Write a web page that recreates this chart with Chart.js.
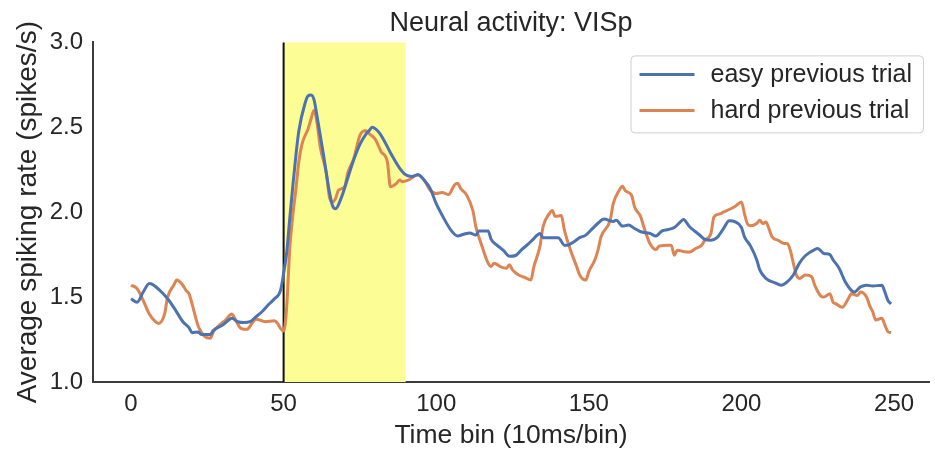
<!DOCTYPE html>
<html>
<head>
<meta charset="utf-8">
<script src="https://cdn.jsdelivr.net/npm/chart.js@4.4.1/dist/chart.umd.min.js"></script>
<style>
  html, body { margin: 0; padding: 0; background: #fff; }
</style>
</head>
<body>
<canvas id="chart" width="935" height="452"></canvas>
<script>
// time bins (10ms/bin) and average spiking rate
const easyBins = [0, 2, 4, 6, 7, 10, 12, 14, 17, 19, 20, 22, 23, 26, 27, 30, 32, 33, 35, 37, 39, 41, 43, 45, 47, 49,
    50, 51, 52, 53, 54, 55, 57, 58, 59, 60, 61, 63, 65, 66, 67, 69, 71, 73, 75, 77, 78, 79, 81, 83, 85, 88, 90,
    92, 94, 96, 98, 100, 102, 105, 107, 109, 111, 113, 114, 117, 118, 120, 122, 124, 126, 128, 130, 132, 134, 135,
    137, 140, 142, 143, 145, 147, 149, 151, 153, 155, 158, 159, 161, 163, 165, 167, 170, 172, 174, 176, 178, 180,
    181, 183, 186, 188, 190, 192, 194, 196, 198, 200, 201, 203, 205, 206, 208, 211, 213, 215, 217, 219, 221, 224,
    225, 227, 229, 230, 232, 234, 236, 237, 239, 241, 243, 246, 247, 248, 249];
const easyRate = [1.49, 1.47, 1.53, 1.58, 1.575, 1.53, 1.49, 1.44, 1.355, 1.32, 1.29, 1.295, 1.28, 1.28, 1.305, 1.335,
    1.365, 1.375, 1.355, 1.35, 1.355, 1.385, 1.415, 1.455, 1.49, 1.54,
    1.64, 1.76, 1.96, 2.15, 2.33, 2.48, 2.64, 2.685, 2.69, 2.66, 2.56, 2.345, 2.12, 2.04, 2.02, 2.09, 2.2, 2.31, 2.4,
    2.46, 2.48, 2.5, 2.475, 2.42, 2.35, 2.26, 2.22,
    2.21, 2.22, 2.19, 2.14, 2.05, 1.98, 1.89, 1.86, 1.87, 1.878, 1.865, 1.89, 1.89, 1.84, 1.805, 1.775, 1.74, 1.745,
    1.78, 1.81, 1.845, 1.875, 1.85,
    1.85, 1.85, 1.806, 1.806, 1.825, 1.85, 1.865, 1.9, 1.935, 1.96, 1.945, 1.953, 1.918, 1.924, 1.904, 1.885, 1.875,
    1.86, 1.89, 1.898, 1.91, 1.943,
    1.957, 1.914, 1.87, 1.84, 1.835, 1.85, 1.9, 1.95, 1.943, 1.91, 1.855, 1.8, 1.72, 1.66, 1.61, 1.584, 1.57, 1.59,
    1.63, 1.7, 1.745, 1.78,
    1.786, 1.757, 1.75, 1.72, 1.67, 1.59, 1.54, 1.53, 1.56, 1.57, 1.565, 1.57, 1.53, 1.48, 1.46];

const hardBins = [0, 2, 4, 6, 8, 9, 11, 12, 14, 15, 17, 18, 19, 20, 22, 23, 24, 26, 27, 29, 31, 33, 34, 36, 38, 40, 41,
    44, 47, 48, 49, 50, 51, 52, 53, 54, 55, 56, 58, 59, 60, 61, 62, 64, 65, 66, 67, 68, 70, 71, 73, 75, 77, 78, 80,
    82, 84, 85, 87, 88, 89, 91, 94, 96, 98, 100, 102, 104, 106, 107, 108, 110, 112, 113, 115, 117, 118, 119, 121,
    123, 124, 125, 127, 129, 131, 132, 134, 135, 137, 138, 139, 141, 142, 144, 146, 147, 149, 150, 152, 153, 154,
    157, 158, 160, 161, 162, 164, 165, 167, 168, 170, 172, 173, 176, 177, 178, 179, 182, 183, 185, 187, 188, 190,
    191, 193, 194, 196, 198, 200, 201, 202, 203, 205, 206, 207, 208, 209, 210, 212, 214, 215, 216, 217, 218, 219,
    221, 223, 224, 226, 227, 229, 230, 231, 233, 235, 236, 238, 239, 241, 242, 243, 244, 246, 247, 248, 249];
const hardRate = [1.57, 1.55, 1.48, 1.4, 1.355, 1.345, 1.4, 1.5, 1.57, 1.6, 1.57, 1.54, 1.52, 1.46, 1.33, 1.296, 1.27,
    1.257, 1.296, 1.335, 1.365, 1.4, 1.375, 1.316, 1.31, 1.355, 1.37,
    1.355, 1.36, 1.345, 1.316, 1.3, 1.44, 1.78, 1.98, 2.13, 2.3, 2.4, 2.49, 2.55, 2.6, 2.52, 2.384, 2.23, 2.09, 2.06,
    2.08, 2.13, 2.15, 2.23, 2.316, 2.453, 2.48, 2.463, 2.43,
    2.355, 2.296, 2.15, 2.17, 2.19, 2.18, 2.19, 2.22, 2.19, 2.13, 2.11, 2.116, 2.104, 2.16, 2.17, 2.14, 2.1, 2.01,
    1.914, 1.8, 1.7, 1.68, 1.7, 1.68,
    1.67, 1.69, 1.66, 1.63, 1.616, 1.6, 1.68, 1.8, 1.914, 1.99, 2.01, 1.976, 1.98, 1.894, 1.776, 1.68, 1.63, 1.6,
    1.65, 1.72, 1.776, 1.855,
    1.953, 2.05, 2.13, 2.153, 2.125, 2.1, 2.03, 1.973, 1.914, 1.816, 1.78, 1.8, 1.806, 1.806, 1.747, 1.776, 1.766,
    1.766, 1.786, 1.806, 1.835, 1.875,
    1.973, 1.99, 2.0, 2.016, 2.035, 2.06, 1.99, 1.93, 1.92, 1.933, 1.953, 1.933, 1.943, 1.904, 1.855, 1.835, 1.816,
    1.816, 1.776, 1.7, 1.63, 1.61,
    1.63, 1.62, 1.57, 1.506, 1.5, 1.52, 1.47, 1.46, 1.44, 1.49, 1.52, 1.51, 1.53, 1.5, 1.45, 1.414, 1.365, 1.375,
    1.335, 1.296, 1.29];

const xTicks = [0, 50, 100, 150, 200, 250];
const yTicks = [1.0, 1.5, 2.0, 2.5, 3.0];
const stimOnset = 50;
const windowEnd = 90;

const textColor = '#262626';
const fontFamily = '"Liberation Sans", Arial, sans-serif';
Chart.defaults.font.family = fontFamily;
Chart.defaults.color = textColor;

function toPoints(bins, rates) {
    return bins.map((b, i) => ({ x: b, y: rates[i] }));
}

// yellow response window and the stimulus onset line
const stimPlugin = {
    id: 'stimWindow',
    beforeDatasetsDraw(chart) {
        const { ctx, chartArea, scales: { x } } = chart;
        const x0 = x.getPixelForValue(stimOnset);
        const x1 = x.getPixelForValue(windowEnd);
        ctx.save();
        ctx.fillStyle = '#fdfd96';
        ctx.fillRect(x0, chartArea.top, x1 - x0, chartArea.bottom - chartArea.top);
        ctx.strokeStyle = '#111';
        ctx.lineWidth = 2;
        ctx.beginPath();
        ctx.moveTo(x0, chartArea.top);
        ctx.lineTo(x0, chartArea.bottom);
        ctx.stroke();
        ctx.restore();
    }
};

// matplotlib-style legend box in the upper right corner
const boxLegend = {
    id: 'boxLegend',
    afterDraw(chart) {
        const { ctx, chartArea } = chart;
        const sets = chart.data.datasets;
        ctx.save();
        ctx.font = '25px ' + fontFamily;
        const textW = Math.max(...sets.map(d => ctx.measureText(d.label).width));
        const w = 9 + 55 + 16 + textW + 11;
        const h = 77;
        const right = chartArea.right - 6;
        const left = right - w;
        const top = chartArea.top + 13;
        ctx.fillStyle = 'rgba(255,255,255,0.85)';
        ctx.strokeStyle = '#d0d0d0';
        ctx.lineWidth = 1;
        ctx.beginPath();
        ctx.roundRect(left + 0.5, top + 0.5, w, h, 4);
        ctx.fill();
        ctx.stroke();
        sets.forEach((d, i) => {
            const y = top + 19 + i * 36;
            ctx.strokeStyle = d.borderColor;
            ctx.lineWidth = 3;
            ctx.beginPath();
            ctx.moveTo(left + 9, y);
            ctx.lineTo(left + 64, y);
            ctx.stroke();
            ctx.fillStyle = textColor;
            ctx.textBaseline = 'middle';
            ctx.fillText(d.label, left + 80, y + 1);
        });
        ctx.restore();
    }
};

new Chart(document.getElementById('chart'), {
    type: 'line',
    data: {
        datasets: [
            {
                label: 'easy previous trial',
                data: toPoints(easyBins, easyRate),
                borderColor: '#4c72b0',
                borderWidth: 3,
                pointRadius: 0,
                cubicInterpolationMode: 'monotone',
                fill: false
            },
            {
                label: 'hard previous trial',
                data: toPoints(hardBins, hardRate),
                borderColor: '#dd8452',
                borderWidth: 3,
                pointRadius: 0,
                cubicInterpolationMode: 'monotone',
                fill: false
            }
        ]
    },
    options: {
        responsive: false,
        animation: false,
        devicePixelRatio: 1,
        layout: { padding: { left: 0, right: 6, top: 0, bottom: 0 } },
        plugins: {
            legend: { display: false },
            tooltip: { enabled: false },
            title: {
                display: true,
                fullSize: false,
                text: 'Neural activity: VISp',
                color: textColor,
                font: { size: 27, weight: 'normal' },
                padding: { top: 7, bottom: 3 }
            }
        },
        scales: {
            x: {
                type: 'linear',
                min: -12.45,
                max: 261.45,
                afterBuildTicks: s => { s.ticks = xTicks.map(v => ({ value: v })); },
                afterFit: s => { s.height = 70; },
                grid: { display: false, drawTicks: false },
                border: { display: true, color: '#3c3c3c', width: 2 },
                ticks: { font: { size: 24 }, padding: 8, maxRotation: 0, color: textColor },
                title: {
                    display: true,
                    text: 'Time bin (10ms/bin)',
                    color: textColor,
                    font: { size: 26.5 },
                    padding: { top: 0, bottom: 0 }
                }
            },
            y: {
                min: 1.0,
                max: 3.0,
                afterBuildTicks: s => { s.ticks = yTicks.map(v => ({ value: v })); },
                afterFit: s => { s.width = 93; },
                grid: { display: false, drawTicks: false },
                border: { display: true, color: '#3c3c3c', width: 2 },
                ticks: {
                    font: { size: 24 },
                    padding: 10,
                    color: textColor,
                    callback: v => Number(v).toFixed(1)
                },
                title: {
                    display: true,
                    text: 'Average spiking rate (spikes/s)',
                    color: textColor,
                    font: { size: 28 },
                    padding: { top: 11, bottom: 0 }
                }
            }
        }
    },
    plugins: [stimPlugin, boxLegend]
});
</script>
</body>
</html>
